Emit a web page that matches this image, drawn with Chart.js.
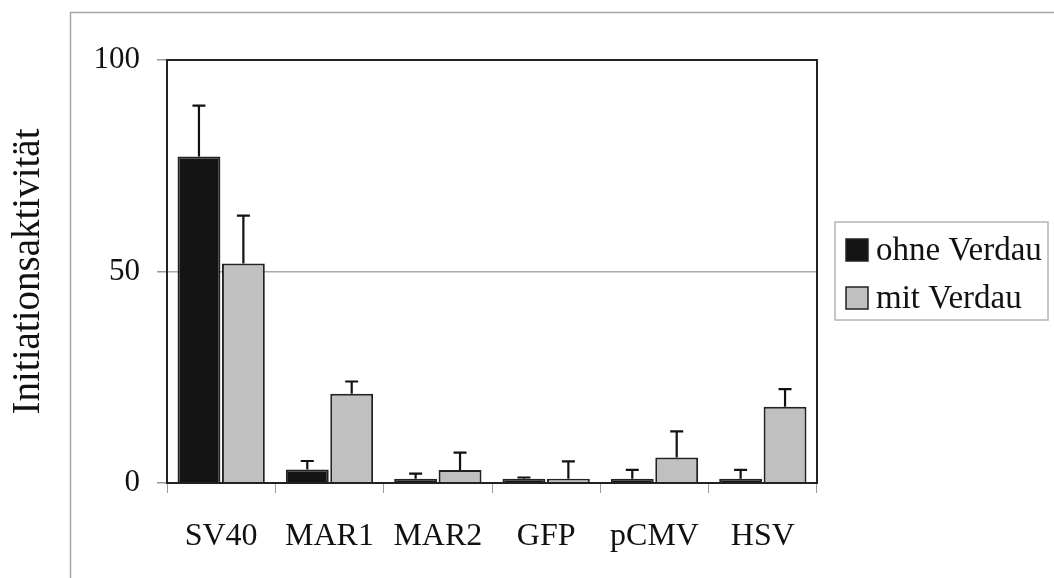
<!DOCTYPE html>
<html>
<head>
<meta charset="utf-8">
<title>Initiationsaktivität</title>
<script src="https://cdn.jsdelivr.net/npm/chart.js@4.4.1/dist/chart.umd.min.js"></script>
<style>
  html, body { margin: 0; padding: 0; background: #fff; }
  #wrap { width: 1054px; height: 578px; position: relative; }
</style>
</head>
<body>
<div id="wrap"><canvas id="chart"></canvas></div>
<script>
  // Messwerte
  const constructs = ['SV40', 'MAR1', 'MAR2', 'GFP', 'pCMV', 'HSV']
  const ohneVerdau = [77.2, 3.2, 1, 1, 1, 1]
  const ohneVerdauSd = [12, 2, 1.2, 0.3, 2.1, 2.1]
  const mitVerdau = [51.9, 21.1, 3.1, 1, 6, 18]
  const mitVerdauSd = [11.3, 2.9, 4.1, 4.1, 6.2, 4.2]
  const yTicks = [0, 50, 100]

  const serif = '"Liberation Serif", "Times New Roman", serif'

  // Fehlerbalken (nur nach oben)
  const errorBars = {
    id: 'errorBars',
    afterDatasetsDraw (chart) {
      const ctx = chart.ctx
      const y = chart.scales.y
      ctx.save()
      ctx.strokeStyle = '#111'
      ctx.lineWidth = 2.2
      chart.data.datasets.forEach((ds, i) => {
        const meta = chart.getDatasetMeta(i)
        meta.data.forEach((bar, j) => {
          const top = y.getPixelForValue(ds.data[j] + ds.sd[j])
          ctx.beginPath()
          ctx.moveTo(bar.x, bar.y)
          ctx.lineTo(bar.x, top)
          ctx.moveTo(bar.x - 6.5, top)
          ctx.lineTo(bar.x + 6.5, top)
          ctx.stroke()
        })
      })
      ctx.restore()
    }
  }

  // Rahmen, Plotbox und Legende
  const frames = {
    id: 'frames',
    beforeDraw (chart) {
      const ctx = chart.ctx
      ctx.save()
      ctx.fillStyle = '#fff'
      ctx.fillRect(0, 0, chart.width, chart.height)
      ctx.strokeStyle = '#a8a8a8'
      ctx.lineWidth = 1.5
      ctx.beginPath()
      ctx.moveTo(70.5, chart.height)
      ctx.lineTo(70.5, 12.5)
      ctx.lineTo(chart.width, 12.5)
      ctx.stroke()
      ctx.restore()
    },
    afterDraw (chart) {
      const ctx = chart.ctx
      const a = chart.chartArea
      ctx.save()
      ctx.strokeStyle = '#222'
      ctx.lineWidth = 2
      ctx.strokeRect(a.left, a.top, a.right - a.left, a.bottom - a.top)

      ctx.strokeStyle = '#b4b4b4'
      ctx.lineWidth = 1.5
      ctx.strokeRect(835, 222, 213, 98)
      ctx.font = '33px ' + serif
      ctx.textBaseline = 'alphabetic'
      chart.data.datasets.forEach((ds, i) => {
        const y0 = 239 + i * 48
        ctx.fillStyle = ds.backgroundColor
        ctx.fillRect(846, y0, 22, 22)
        ctx.strokeStyle = '#222'
        ctx.lineWidth = 1.5
        ctx.strokeRect(846, y0, 22, 22)
        ctx.fillStyle = '#111'
        ctx.fillText(ds.label, 876, y0 + 21)
      })
      ctx.restore()
    }
  }

  new Chart(document.getElementById('chart'), {
    type: 'bar',
    data: {
      labels: constructs,
      datasets: [
        {
          label: 'ohne Verdau',
          data: ohneVerdau,
          sd: ohneVerdauSd,
          backgroundColor: '#141414',
          borderColor: '#222',
          borderWidth: 2
        },
        {
          label: 'mit Verdau',
          data: mitVerdau,
          sd: mitVerdauSd,
          backgroundColor: '#c0c0c0',
          borderColor: '#222',
          borderWidth: 2
        }
      ]
    },
    options: {
      responsive: true,
      maintainAspectRatio: false,
      animation: false,
      categoryPercentage: 0.82,
      barPercentage: 0.965,
      layout: { padding: { top: 60, right: 237, left: 0, bottom: 0 } },
      plugins: {
        legend: { display: false },
        tooltip: { enabled: false }
      },
      scales: {
        x: {
          grid: {
            drawOnChartArea: false,
            tickLength: 10,
            tickColor: '#999',
            offset: true
          },
          border: { color: '#222', width: 2 },
          ticks: {
            color: '#111',
            padding: 24,
            font: { family: serif, size: 32 }
          },
          afterFit (scale) { scale.height = 95 }
        },
        y: {
          min: 0,
          max: 100,
          afterBuildTicks (scale) {
            scale.ticks = yTicks.map(v => ({ value: v }))
          },
          grid: {
            color: ctx => (ctx.tick && ctx.tick.value === 50 ? '#aaa' : 'rgba(0,0,0,0)'),
            tickColor: '#999',
            tickLength: 10,
            lineWidth: 1.5
          },
          border: { color: '#222', width: 2 },
          ticks: {
            color: '#111',
            padding: 17,
            font: { family: serif, size: 31 }
          },
          title: {
            display: true,
            text: 'Initiationsaktivität',
            color: '#111',
            padding: { top: 5, bottom: 0 },
            font: { family: serif, size: 39 }
          },
          afterFit (scale) { scale.width = 167 }
        }
      }
    },
    plugins: [frames, errorBars]
  })
</script>
</body>
</html>
